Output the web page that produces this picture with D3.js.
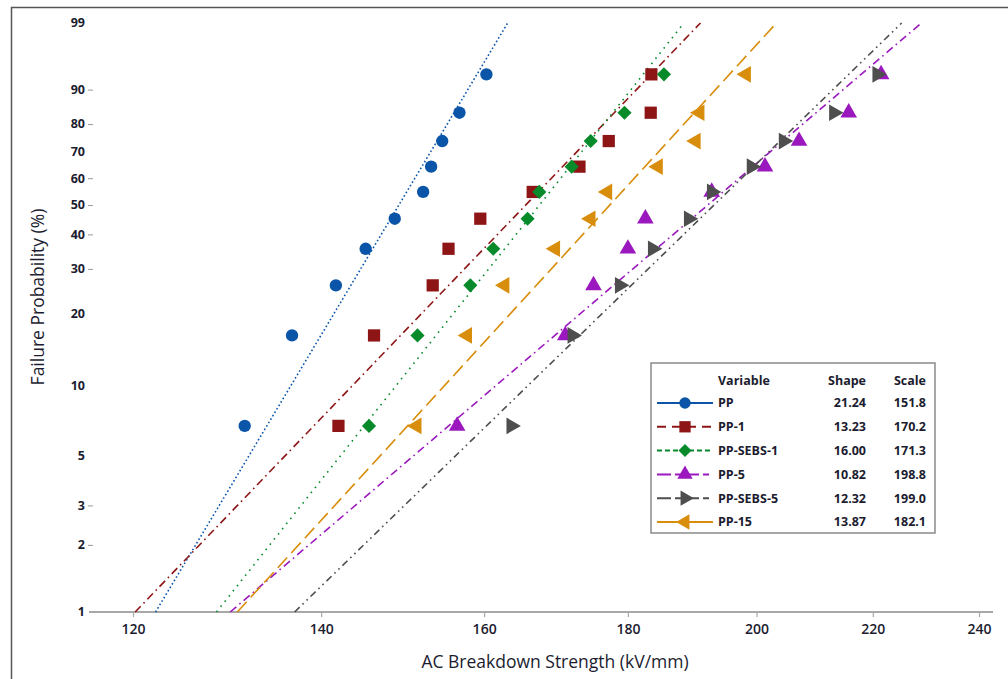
<!DOCTYPE html>
<html>
<head>
<meta charset="utf-8">
<script src="https://cdn.jsdelivr.net/npm/d3@7"></script>
<style>
  html, body { margin: 0; padding: 0; background: #fff; }
  svg { display: block; }
  text { font-family: "Open Sans", "Noto Sans", sans-serif; fill: #1c1c30; }
</style>
</head>
<body>
<svg id="chart" width="1008" height="679"></svg>
<script>
// ---------- data ----------
const seriesNames = ["PP", "PP-1", "PP-SEBS-1", "PP-5", "PP-SEBS-5", "PP-15"];
const shapes = [21.24, 13.23, 16.00, 10.82, 12.32, 13.87];
const scales = [151.8, 170.2, 171.3, 198.8, 199.0, 182.1];
const shapeLabels = ["21.24", "13.23", "16.00", "10.82", "12.32", "13.87"];
const scaleLabels = ["151.8", "170.2", "171.3", "198.8", "199.0", "182.1"];
// median-rank failure probabilities (%) of the 10 specimens
const ranks = [6.73, 16.35, 25.96, 35.58, 45.19, 54.81, 64.42, 74.04, 83.65, 93.27];
// breakdown strengths (kV/mm) per series
const ppValues       = [131.5, 136.7, 141.7, 145.2, 148.7, 152.2, 153.2, 154.6, 156.8, 160.3];
const pp1Values      = [142.0, 146.2, 153.4, 155.4, 159.5, 166.5, 173.0, 177.2, 183.4, 183.5];
const ppSebs1Values  = [145.6, 151.5, 158.2, 161.2, 165.8, 167.4, 171.9, 174.6, 179.5, 185.4];
const pp5Values      = [156.5, 171.0, 175.0, 180.0, 182.6, 192.8, 201.4, 207.1, 215.7, 221.5];
const ppSebs5Values  = [163.6, 172.0, 178.8, 183.7, 189.2, 192.8, 199.2, 204.5, 213.1, 220.8];
const pp15Values     = [151.4, 157.8, 162.7, 169.6, 174.6, 177.0, 184.5, 190.3, 190.9, 198.3];
const seriesValues = [ppValues, pp1Values, ppSebs1Values, pp5Values, ppSebs5Values, pp15Values];
// axis ticks
const xTicks = [120, 140, 160, 180, 200, 220, 240];
const yTicks = [1, 2, 3, 5, 10, 20, 30, 40, 50, 60, 70, 80, 90, 99];
const yTicksWithMark = [2, 3, 30, 40, 50, 60, 80, 90];
const lineRange = [1, 99];

// ---------- styles ----------
const colors = ["#0a55a8", "#8e1515", "#078a2a", "#9a18bd", "#4e4e4e", "#d98d0c"];
const dashes = ["1.6,2.4", "8,4,1.6,4", "1.6,5", "8,4,1.6,4", "7,4,1.6,4,1.6,4", "14,6"];
const legendDashes = [null, "9,6", "5,3", "14,4,6,4", "14,4,6,4", null];
const symbols = [
  {type: d3.symbolCircle, size: 120, rot: 0},
  {type: d3.symbolSquare, size: 150, rot: 0},
  {type: d3.symbolSquare, size: 100, rot: 45},
  {type: d3.symbolTriangle, size: 120, rot: 0},
  {type: d3.symbolTriangle, size: 120, rot: 90},
  {type: d3.symbolTriangle, size: 120, rot: -90}
];

const svg = d3.select("#chart");

// outer frame
svg.append("rect").attr("x", 11.5).attr("y", 7.5).attr("width", 1020).attr("height", 700)
  .attr("fill", "none").attr("stroke", "#555").attr("stroke-width", 1.5);

// ---------- scales ----------
const wt = p => Math.log(-Math.log(1 - p / 100));
const x = d3.scaleLog().domain([120, 240]).range([133, 979]);
const yLin = d3.scaleLinear().domain([wt(1), wt(99)]).range([612, 23]);
const y = p => yLin(wt(p));

// ---------- x axis ----------
const xAxis = d3.axisBottom(x).tickValues(xTicks).tickFormat(d3.format("d")).tickSize(5).tickPadding(7);
const gx = svg.append("g").attr("transform", "translate(0,612)").call(xAxis);
gx.select(".domain").remove();
gx.append("line").attr("x1", 89).attr("x2", 993).attr("y1", 0).attr("y2", 0)
  .attr("stroke", "#a8a8a8").attr("stroke-width", 2);
gx.selectAll(".tick line").attr("stroke", "#a8a8a8").attr("stroke-width", 1.2);
gx.selectAll(".tick text").attr("font-size", 14).attr("fill", "#1c1c30")
  .attr("font-family", "'Open Sans', sans-serif").attr("font-weight", 600);

// ---------- y axis ----------
const gy = svg.append("g");
gy.selectAll("text").data(yTicks).join("text")
  .attr("x", 85).attr("y", d => y(d)).attr("dy", "0.35em")
  .attr("text-anchor", "end").attr("font-size", 12.5).attr("font-weight", 700)
  .text(d => d);
gy.selectAll("line").data(yTicksWithMark).join("line")
  .attr("x1", 88).attr("x2", 93).attr("y1", d => y(d) + 0.5).attr("y2", d => y(d) + 0.5)
  .attr("stroke", "#999").attr("stroke-width", 1);

// axis titles
svg.append("text").attr("x", 555).attr("y", 668).attr("text-anchor", "middle")
  .attr("font-size", 17.5).attr("font-weight", 500).text("AC Breakdown Strength (kV/mm)");
svg.append("text").attr("transform", "translate(44,297) rotate(-90)").attr("text-anchor", "middle")
  .attr("font-size", 17.5).attr("font-weight", 500).text("Failure Probability (%)");

// ---------- fitted lines ----------
const weibullX = (i, p) => scales[i] * Math.pow(-Math.log(1 - p / 100), 1 / shapes[i]);
const lineGen = d3.line().x(d => d[0]).y(d => d[1]);
seriesNames.forEach((name, i) => {
  const pts = lineRange.map(p => [x(weibullX(i, p)), y(p)]);
  svg.append("path").attr("d", lineGen(pts)).attr("fill", "none")
    .attr("stroke", colors[i]).attr("stroke-width", 1.6)
    .attr("stroke-dasharray", dashes[i]);
});

// ---------- points ----------
seriesNames.forEach((name, i) => {
  const sym = d3.symbol().type(symbols[i].type).size(symbols[i].size);
  svg.append("g").selectAll("path").data(seriesValues[i]).join("path")
    .attr("d", sym)
    .attr("transform", (d, k) => `translate(${x(d)},${y(ranks[k])}) rotate(${symbols[i].rot})`)
    .attr("fill", colors[i]);
});

// ---------- legend ----------
const lg = svg.append("g");
lg.append("rect").attr("x", 651).attr("y", 363).attr("width", 284).attr("height", 170)
  .attr("fill", "#fff").attr("stroke", "#8a8a8a").attr("stroke-width", 1.5);
const lf = 12.5;
lg.append("text").attr("x", 718).attr("y", 385).attr("font-size", lf).attr("font-weight", 700).text("Variable");
lg.append("text").attr("x", 866).attr("y", 385).attr("text-anchor", "end").attr("font-size", lf).attr("font-weight", 700).text("Shape");
lg.append("text").attr("x", 926).attr("y", 385).attr("text-anchor", "end").attr("font-size", lf).attr("font-weight", 700).text("Scale");
seriesNames.forEach((name, i) => {
  const ry = 403 + i * 23.8;
  lg.append("line").attr("x1", 657).attr("x2", 713).attr("y1", ry).attr("y2", ry)
    .attr("stroke", colors[i]).attr("stroke-width", 2)
    .attr("stroke-dasharray", legendDashes[i]);
  lg.append("path").attr("d", d3.symbol().type(symbols[i].type).size(symbols[i].size * 0.85)())
    .attr("transform", `translate(685,${ry}) rotate(${symbols[i].rot})`).attr("fill", colors[i]);
  lg.append("text").attr("x", 718).attr("y", ry).attr("dy", "0.35em").attr("font-size", lf).attr("font-weight", 700).text(name);
  lg.append("text").attr("x", 866).attr("y", ry).attr("dy", "0.35em").attr("text-anchor", "end").attr("font-size", lf).attr("font-weight", 700).text(shapeLabels[i]);
  lg.append("text").attr("x", 926).attr("y", ry).attr("dy", "0.35em").attr("text-anchor", "end").attr("font-size", lf).attr("font-weight", 700).text(scaleLabels[i]);
});
</script>
</body>
</html>
